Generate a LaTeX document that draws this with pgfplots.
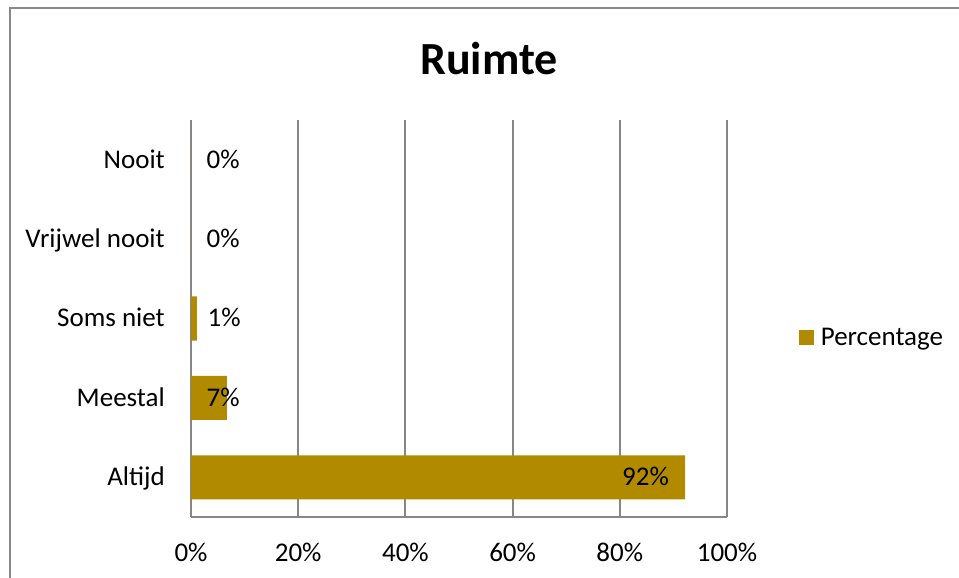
\documentclass[border=0pt]{standalone}
\usepackage{fontspec}
\setmainfont{Carlito}
\usepackage{pgfplots}
\pgfplotsset{compat=1.18}

\definecolor{barcol}{RGB}{177,138,0}
\definecolor{gridcol}{RGB}{134,134,134}
\definecolor{framecol}{RGB}{137,137,137}

\newcommand{\lblfont}{\fontsize{27bp}{32bp}\selectfont}

\begin{document}
\begin{tikzpicture}
% picture frame, cropped at the right and bottom like the reference
\path[use as bounding box] (0,0) rectangle (959bp,578bp);
\draw[framecol, line width=1.8bp] (10bp,0) -- (10bp,570bp) -- (959bp,570bp);
\node[anchor=base, font=\fontsize{46bp}{54bp}\selectfont\bfseries] at (489bp,503bp) {Ruimte};

\begin{axis}[
    at={(191bp,61bp)}, anchor=south west,
    scale only axis, width=536bp, height=397bp,
    xmin=0, xmax=100, ymin=-0.5, ymax=4.5,
    xtick={0,20,...,100},
    xticklabels={0\%,20\%,40\%,60\%,80\%,100\%},
    ytick={0,...,4},
    yticklabels={Altijd,Meestal,Soms niet,Vrijwel nooit,Nooit},
    major tick length=0pt,
    axis x line*=bottom, axis y line*=left,
    axis line style={-, gridcol, line width=2bp},
    xmajorgrids, major grid style={gridcol, line width=2bp},
    tick label style={font=\lblfont, inner sep=0pt},
    xticklabel style={anchor=base, yshift=-44bp},
    yticklabel style={anchor=base east, xshift=-26bp, yshift=-8.3bp},
    /pgf/number format/assume math mode=true,
    legend style={draw=none, fill=none, inner sep=0pt, outer sep=0pt,
        at={(rel axis cs:1.134,0.451)}, anchor=west,
        nodes={inner sep=0pt, font=\lblfont}, column sep=7bp},
    legend image code/.code={\fill[barcol] (0bp,-7.5bp) rectangle (15bp,7.5bp);},
]
\addplot[xbar, bar width=44bp, fill=barcol, draw=none] coordinates {
    (92.2,0) (6.7,1) (1.1,2) (0,3) (0,4)
};
\addlegendentry{Percentage}

% data labels: x = label centre, meta = shown value
\addplot[draw=none, mark=none, only marks,
    point meta=explicit,
    nodes near coords={\pgfmathprintnumber[fixed,precision=0]{\pgfplotspointmeta}\%},
    nodes near coords style={anchor=base, yshift=-8.3bp, inner sep=0pt, font=\lblfont, black},
    forget plot]
table[x=x, y=y, meta=v, row sep=\\] {
    x    y  v  \\
    84.8 0  92 \\
    6.0  1  7  \\
    6.2  2  1  \\
    6.0  3  0  \\
    6.0  4  0  \\
};
\end{axis}
\end{tikzpicture}
\end{document}
